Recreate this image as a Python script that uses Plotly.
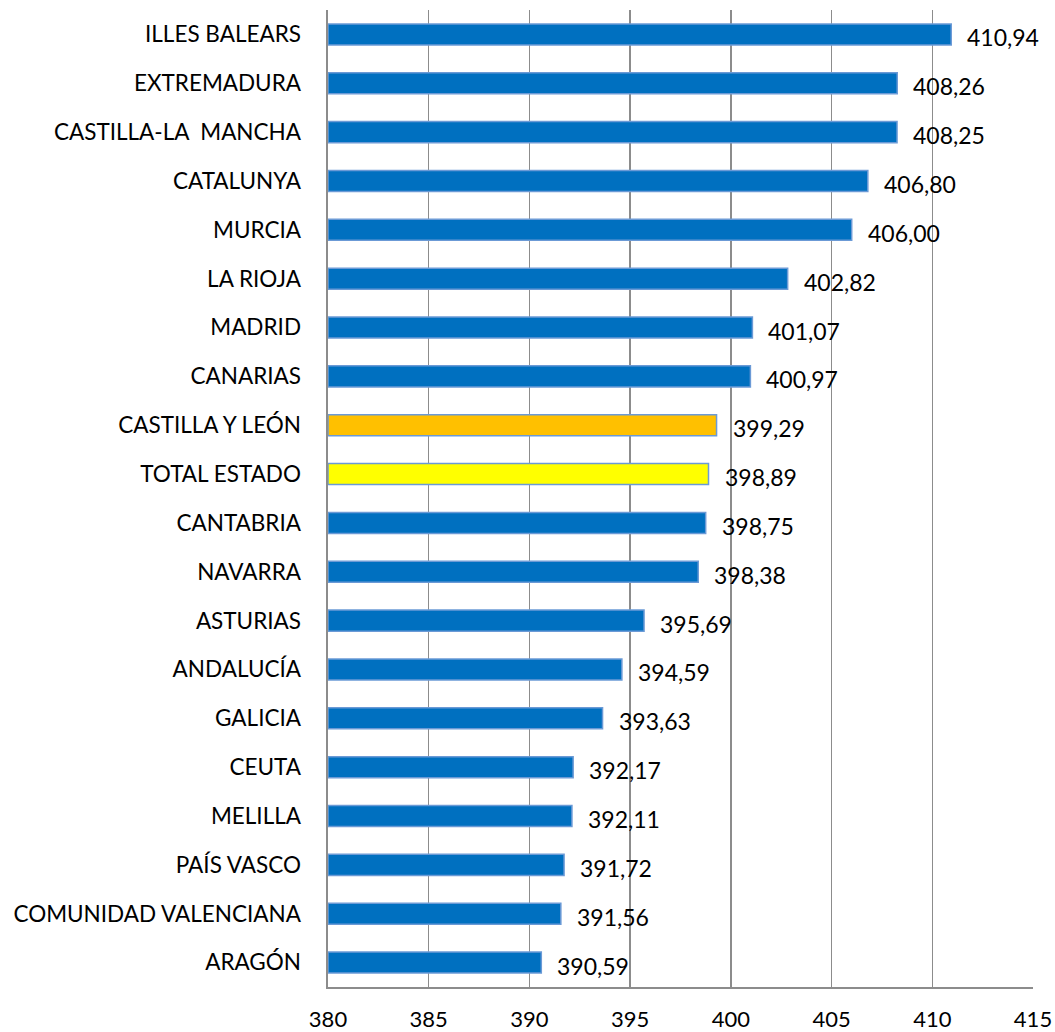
import plotly.graph_objects as go

categories = ["ILLES BALEARS", "EXTREMADURA", "CASTILLA-LA  MANCHA", "CATALUNYA", "MURCIA",
              "LA RIOJA", "MADRID", "CANARIAS", "CASTILLA Y LEÓN", "TOTAL ESTADO",
              "CANTABRIA", "NAVARRA", "ASTURIAS", "ANDALUCÍA", "GALICIA",
              "CEUTA", "MELILLA", "PAÍS VASCO", "COMUNIDAD VALENCIANA", "ARAGÓN"]
values = [410.94, 408.26, 408.25, 406.80, 406.00, 402.82, 401.07, 400.97, 399.29, 398.89,
          398.75, 398.38, 395.69, 394.59, 393.63, 392.17, 392.11, 391.72, 391.56, 390.59]
labels = ["410,94", "408,26", "408,25", "406,80", "406,00", "402,82", "401,07", "400,97", "399,29", "398,89",
          "398,75", "398,38", "395,69", "394,59", "393,63", "392,17", "392,11", "391,72", "391,56", "390,59"]
tick_vals = [380, 385, 390, 395, 400, 405, 410, 415]

colors = []
for c in categories:
    if c == "CASTILLA Y LEÓN":
        colors.append("#FFC000")
    elif c == "TOTAL ESTADO":
        colors.append("#FFFF00")
    else:
        colors.append("#0070C0")

FONT = "Lato, 'Open Sans', sans-serif"

fig = go.Figure()
fig.add_trace(go.Bar(
    y=categories, x=[v - 380 for v in values], base=380, orientation="h",
    marker=dict(color=colors, line=dict(color="#6B9AD6", width=1.5)),
    hoverinfo="skip",
))
for c, v, t in zip(categories, values, labels):
    fig.add_annotation(x=v, y=c, text=t, showarrow=False, xanchor="left",
                       xshift=14, yshift=-3,
                       font=dict(family=FONT, size=23, color="#000000"))

fig.update_layout(
    width=1055, height=1032,
    margin=dict(l=328, r=22, t=10, b=45),
    plot_bgcolor="white", paper_bgcolor="white",
    bargap=0.57, showlegend=False,
    font=dict(family=FONT, color="#000000"),
)
fig.update_xaxes(range=[380, 415], tickvals=tick_vals, ticktext=[str(v) for v in tick_vals],
                 showgrid=True, gridcolor="#8C8C8C", gridwidth=1.5,
                 showline=True, linecolor="#8C8C8C", linewidth=1.5,
                 ticks="", tickfont=dict(size=22, family=FONT), ticklabelstandoff=12,
                 zeroline=False, fixedrange=True, automargin=False)
fig.update_yaxes(autorange="reversed", showgrid=False,
                 showline=True, linecolor="#8C8C8C", linewidth=2.5,
                 ticks="", tickfont=dict(size=22.5, family=FONT), ticklabelstandoff=20,
                 fixedrange=True, automargin=False)

fig.write_html(
    "out.html",
    config={"displayModeBar": False, "staticPlot": True},
    post_script="document.body.style.margin='0';document.documentElement.style.overflow='hidden';",
)
